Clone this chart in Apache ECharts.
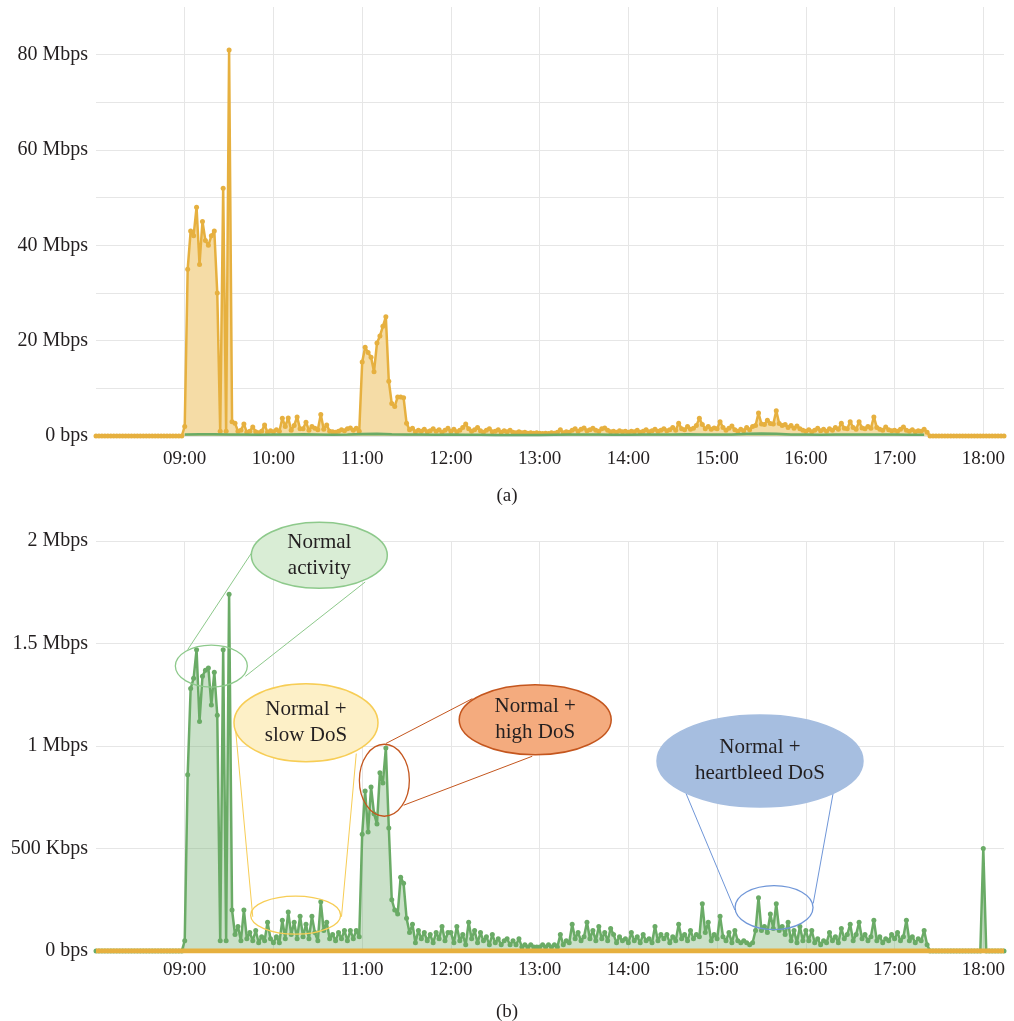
<!DOCTYPE html>
<html>
<head>
<meta charset="utf-8">
<script src="https://cdn.jsdelivr.net/npm/echarts@6/dist/echarts.min.js"></script>
<style>
  html, body { margin: 0; padding: 0; background: #ffffff; }
  #chart { width: 1014px; height: 1021px; }
</style>
</head>
<body>
<div id="chart"></div>
<script>
// ---- Tick labels ----------------------------------------------------------
const hourLabels = ['09:00', '10:00', '11:00', '12:00', '13:00', '14:00', '15:00', '16:00', '17:00', '18:00'];
const totalTickLabels = ['0 bps', '20 Mbps', '40 Mbps', '60 Mbps', '80 Mbps'];
const normalTickLabels = ['0 bps', '500 Kbps', '1 Mbps', '1.5 Mbps', '2 Mbps'];

// ---- (a) total throughput, Mbps, one sample every 2 min from 08:00 ---------
const totalMbps = [
  0, 0, 0, 0, 0, 0, 0, 0, 0, 0, 0, 0, 0, 0, 0, 0, 0, 0, 0, 0, 0, 0, 0, 0, 0, 0, 0, 0, 0, 0,               // 08
  2, 35, 43, 42, 48, 36, 45, 41, 40, 42, 43, 30, 1, 52, 1, 81, 3, 2.7, 1.0, 1.2,
  2.5, 0.8, 1.0, 1.9, 0.9, 0.7, 1.0, 2.3, 0.8, 1.1,                                                         // 09
  0.9, 1.3, 1.0, 3.7, 2.0, 3.8, 1.2, 2.2, 4.0, 1.5, 1.5, 2.9, 1.2, 2.0, 1.6, 1.3, 4.5, 1.4, 2.3, 1.0,
  0.9, 0.8, 1.0, 1.3, 1.1, 1.5, 1.7, 1.2, 1.6, 1.0,                                                         // 10
  15.5, 18.6, 17.5, 16.5, 13.5, 19.5, 21, 23, 25, 11.5, 6.8, 6.2, 8.2, 8.2, 8.0, 2.7, 1.3, 1.6, 0.9, 1.2,
  1.0, 1.4, 0.9, 1.1, 1.5, 1.0, 1.3, 0.8, 1.2, 1.6,                                                         // 11
  1.0, 1.4, 0.9, 1.2, 1.8, 2.5, 1.5, 1.0, 1.3, 1.8, 1.1, 0.8, 1.2, 1.5, 0.9, 1.0, 1.3, 0.8, 1.1, 0.9,
  1.2, 0.8, 0.7, 0.9, 0.7, 0.8, 0.6, 0.7, 0.6, 0.7,                                                         // 12
  0.6, 0.5, 0.6, 0.5, 0.7, 0.6, 0.8, 1.3, 0.7, 0.9, 0.8, 1.2, 1.5, 1.0, 1.4, 1.7, 1.1, 1.3, 1.6, 1.2,
  1.0, 1.5, 1.7, 1.2, 0.9, 1.0, 0.8, 1.1, 0.9, 1.0,                                                         // 13
  0.8, 1.0, 0.9, 1.2, 0.8, 1.0, 1.3, 0.9, 1.1, 1.4, 1.0, 1.2, 1.5, 1.1, 1.3, 1.8, 1.2, 2.7, 1.5, 1.3,
  2.0, 1.4, 1.6, 2.2, 3.7, 2.4, 1.5, 2.0, 1.4, 1.7,                                                         // 14
  1.5, 3.0, 1.8, 1.2, 1.6, 2.1, 1.3, 1.0, 1.4, 1.1, 1.8, 1.3, 2.0, 2.2, 4.8, 2.5, 2.4, 3.3, 2.6, 2.5,
  5.3, 2.6, 2.2, 2.4, 1.8, 2.2, 1.6, 2.1, 1.5, 1.2,                                                         // 15
  1.0, 1.3, 0.9, 1.2, 1.6, 1.1, 1.4, 1.0, 1.5, 1.2, 1.8, 1.4, 2.7, 1.6, 1.5, 3.0, 1.8, 1.4, 3.0, 1.7,
  1.5, 2.0, 1.6, 4.0, 1.8, 1.4, 1.2, 1.9, 1.3, 1.1,                                                         // 16
  1.2, 1.0, 1.4, 1.9, 1.2, 1.0, 1.3, 0.9, 1.1, 1.0, 1.4, 0.8, 0, 0, 0, 0, 0, 0, 0, 0,
  0, 0, 0, 0, 0, 0, 0, 0, 0, 0,                                                                             // 17
  0, 0, 0, 0, 0, 0, 0, 0                                                                                    // 18
];

// normal share of (a), Mbps, one sample every 10 min from 09:00
const totalNormalMbps = [
  0.3, 0.35, 0.35, 0.3, 0.3, 0.25,
  0.3, 0.3, 0.35, 0.3, 0.25, 0.3,
  0.4, 0.45, 0.35, 0.3, 0.3, 0.25,
  0.3, 0.25, 0.25, 0.2, 0.2, 0.2,
  0.2, 0.25, 0.3, 0.3, 0.3, 0.25,
  0.25, 0.3, 0.3, 0.3, 0.35, 0.3,
  0.3, 0.3, 0.45, 0.5, 0.45, 0.3,
  0.3, 0.25, 0.3, 0.3, 0.3, 0.3,
  0.3, 0.25, 0.25
];

// ---- (b) normal throughput, Mbps, one sample every 2 min from 08:00 --------
const normalMbps = [
  0, 0, 0, 0, 0, 0, 0, 0, 0, 0, 0, 0, 0, 0, 0, 0, 0, 0, 0, 0, 0, 0, 0, 0, 0, 0, 0, 0, 0, 0,               // 08
  0.05, 0.86, 1.28, 1.33, 1.47, 1.12, 1.34, 1.37, 1.38, 1.2, 1.36, 1.15, 0.05, 1.47, 0.05, 1.74, 0.2, 0.08, 0.12, 0.05,
  0.2, 0.06, 0.09, 0.05, 0.1, 0.04, 0.07, 0.05, 0.14, 0.06,                                                 // 09
  0.04, 0.07, 0.04, 0.15, 0.06, 0.19, 0.08, 0.14, 0.06, 0.17, 0.07, 0.13, 0.06, 0.17, 0.09, 0.05, 0.24, 0.1, 0.14, 0.06,
  0.08, 0.05, 0.09, 0.06, 0.1, 0.05, 0.1, 0.06, 0.1, 0.07,                                                  // 10
  0.57, 0.78, 0.58, 0.8, 0.67, 0.62, 0.87, 0.82, 0.99, 0.6, 0.25, 0.2, 0.18, 0.36, 0.33, 0.16, 0.09, 0.13, 0.04, 0.1,
  0.06, 0.09, 0.05, 0.08, 0.04, 0.09, 0.06, 0.12, 0.05, 0.09,                                               // 11
  0.09, 0.04, 0.12, 0.05, 0.08, 0.03, 0.14, 0.06, 0.1, 0.04, 0.09, 0.05, 0.07, 0.03, 0.08, 0.04, 0.06, 0.03, 0.05, 0.06,
  0.03, 0.05, 0.03, 0.06, 0.02, 0.03, 0.02, 0.03, 0.02, 0.02,                                               // 12
  0.02, 0.03, 0.02, 0.03, 0.02, 0.03, 0.02, 0.08, 0.03, 0.05, 0.04, 0.13, 0.06, 0.09, 0.05, 0.07, 0.14, 0.06, 0.1, 0.05,
  0.12, 0.06, 0.09, 0.05, 0.11, 0.08, 0.04, 0.07, 0.05, 0.06,                                               // 13
  0.04, 0.09, 0.05, 0.07, 0.04, 0.08, 0.05, 0.06, 0.04, 0.12, 0.05, 0.08, 0.06, 0.08, 0.04, 0.07, 0.05, 0.13, 0.06, 0.08,
  0.05, 0.1, 0.06, 0.08, 0.07, 0.23, 0.09, 0.14, 0.05, 0.08,                                                // 14
  0.06, 0.17, 0.07, 0.05, 0.09, 0.04, 0.1, 0.05, 0.04, 0.05, 0.04, 0.03, 0.04, 0.1, 0.26, 0.1, 0.12, 0.09, 0.18, 0.11,
  0.23, 0.1, 0.12, 0.08, 0.14, 0.05, 0.1, 0.04, 0.12, 0.05,                                                 // 15
  0.1, 0.05, 0.1, 0.04, 0.06, 0.03, 0.05, 0.04, 0.09, 0.05, 0.07, 0.04, 0.11, 0.06, 0.08, 0.13, 0.05, 0.08, 0.14, 0.06,
  0.08, 0.05, 0.07, 0.15, 0.05, 0.07, 0.04, 0.06, 0.05, 0.08,                                               // 16
  0.06, 0.09, 0.05, 0.07, 0.15, 0.05, 0.07, 0.04, 0.06, 0.05, 0.1, 0.03, 0, 0, 0, 0, 0, 0, 0, 0,
  0, 0, 0, 0, 0, 0, 0, 0, 0, 0,                                                                             // 17
  0.5, 0, 0, 0, 0, 0, 0, 0                                                                                  // 18
];

// attack share of (b), Mbps
const attackMbps = [['08:00', 0], ['13:00', 0], ['18:14', 0]];

// ---- Callouts on (b), positioned in (clock, Mbps) -------------------------
const callouts = [
  { label: 'Normal\nactivity', at: ['10:31', 1.93], rx: 68, ry: 33, fill: '#d9edd5', stroke: '#8dc98b',
    focus: ['09:18', 1.39], frx: 36, fry: 21, focusStroke: '#8dc98b',
    links: [[['09:02', 1.47], ['09:45', 1.94]], [['09:41', 1.34], ['11:02', 1.80]]] },
  { label: 'Normal +\nslow DoS', at: ['10:22', 1.113], rx: 72, ry: 39, fill: '#fdf0c7', stroke: '#f7cd55',
    focus: ['10:15', 0.175], frx: 45, fry: 19, focusStroke: '#f7cd55',
    links: [[['09:34', 1.111], ['09:46', 0.167]], [['10:56', 0.963], ['10:46', 0.167]]] },
  { label: 'Normal +\nhigh DoS', at: ['12:57', 1.128], rx: 76, ry: 35, fill: '#f4ab7e', stroke: '#c4561e',
    focus: ['11:15', 0.833], frx: 25, fry: 36, focusStroke: '#c4561e',
    links: [[['11:16', 1.012], ['12:14.5', 1.231]], [['11:28', 0.711], ['12:55', 0.95]]] },
  { label: 'Normal +\nheartbleed DoS', at: ['15:29', 0.927], rx: 103, ry: 46, fill: '#a6bee0', stroke: '#a6bee0',
    focus: ['15:38.5', 0.212], frx: 39, fry: 22, focusStroke: '#6f96d8',
    links: [[['14:39', 0.768], ['15:12', 0.2]], [['16:18.4', 0.768], ['16:05', 0.232]]] }
];

// ---- Helpers ---------------------------------------------------------------
const FONT = '"Liberation Serif", "Times New Roman", serif';
const TEXT = '#231f20';
const GRIDLINE = '#e6e6e6';
const YELLOW = '#e6b03f';
const YELLOW_FILL = '#f5dca6';
const GREEN = '#6aab66';
const GREEN_FILL = 'rgba(106,171,102,0.5)';

function toMin(hm) { const p = hm.split(':'); return Number(p[0]) * 60 + parseFloat(p[1]); }
function clock(min) {
  const h = Math.floor(min / 60), m = Math.round(min % 60);
  return String(h).padStart(2, '0') + ':' + String(m).padStart(2, '0');
}
function sampled(values, startHM, stepMin) {
  const t0 = toMin(startHM);
  return values.map((v, i) => [t0 + i * stepMin, v]);
}

function xAxis(gridIndex, margin) {
  return {
    type: 'value', gridIndex, min: toMin('08:00'), max: toMin('18:14'), interval: 60,
    axisLine: { show: false }, axisTick: { show: false },
    splitLine: { show: true, showMinLine: false, showMaxLine: false, lineStyle: { color: GRIDLINE, width: 1 } },
    axisLabel: {
      margin, fontFamily: FONT, fontSize: 19, color: TEXT, showMinLabel: false, showMaxLabel: false,
      formatter: v => (hourLabels.includes(clock(v)) ? clock(v) : '')
    }
  };
}

const chart = echarts.init(document.getElementById('chart'));

chart.setOption({
  animation: false,
  backgroundColor: '#ffffff',
  title: [
    { text: '(a)', left: 'center', top: 482, textStyle: { fontFamily: FONT, fontSize: 19, fontWeight: 'normal', color: TEXT } },
    { text: '(b)', left: 'center', top: 998, textStyle: { fontFamily: FONT, fontSize: 19, fontWeight: 'normal', color: TEXT } }
  ],
  grid: [
    { left: 96, right: 10, top: 7, height: 429 },
    { left: 96, right: 10, top: 541, height: 410 }
  ],
  xAxis: [xAxis(0, 14), xAxis(1, 10)],
  yAxis: [
    {
      type: 'value', gridIndex: 0, min: 0, max: 90, interval: 10,
      axisLine: { show: false }, axisTick: { show: false },
      splitLine: { show: true, showMaxLine: false, lineStyle: { color: GRIDLINE, width: 1 } },
      axisLabel: {
        margin: 8, fontFamily: FONT, fontSize: 20, color: TEXT,
        formatter: v => (v % 20 === 0 ? totalTickLabels[v / 20] : '')
      }
    },
    {
      type: 'value', gridIndex: 1, min: 0, max: 2, interval: 0.5,
      axisLine: { show: false }, axisTick: { show: false },
      splitLine: { show: true, lineStyle: { color: GRIDLINE, width: 1 } },
      axisLabel: {
        margin: 8, fontFamily: FONT, fontSize: 20, color: TEXT,
        formatter: v => normalTickLabels[Math.round(v / 0.5)]
      }
    }
  ],
  series: [
    {
      name: 'total', type: 'line', xAxisIndex: 0, yAxisIndex: 0, z: 2,
      data: sampled(totalMbps, '08:00', 2),
      symbol: 'circle', symbolSize: 5, showSymbol: true,
      lineStyle: { color: YELLOW, width: 2.5 }, itemStyle: { color: YELLOW },
      areaStyle: { color: YELLOW_FILL, opacity: 1 }
    },
    {
      name: 'total normal', type: 'line', xAxisIndex: 0, yAxisIndex: 0, z: 3,
      data: sampled(totalNormalMbps, '09:00', 10),
      showSymbol: false,
      lineStyle: { color: GREEN, width: 2.5 }, itemStyle: { color: GREEN },
      areaStyle: { color: GREEN_FILL }
    },
    {
      name: 'normal', type: 'line', xAxisIndex: 1, yAxisIndex: 1, z: 2,
      data: sampled(normalMbps, '08:00', 2),
      symbol: 'circle', symbolSize: 5, showSymbol: true,
      lineStyle: { color: GREEN, width: 2.5 }, itemStyle: { color: GREEN },
      areaStyle: { color: GREEN_FILL }
    },
    {
      name: 'attack', type: 'line', xAxisIndex: 1, yAxisIndex: 1, z: 4,
      data: attackMbps.map(d => [toMin(d[0]), d[1]]),
      showSymbol: false,
      lineStyle: { color: YELLOW, width: 5 }, itemStyle: { color: YELLOW }
    }
  ]
});

// Callout bubbles and their leader lines, placed through the (b) axes
const finder = { xAxisIndex: 1, yAxisIndex: 1 };
const px = p => chart.convertToPixel(finder, [toMin(p[0]), p[1]]);
const elements = [];
callouts.forEach(c => {
  c.links.forEach(l => {
    const a = px(l[0]), b = px(l[1]);
    elements.push({ type: 'line', z: 100, shape: { x1: a[0], y1: a[1], x2: b[0], y2: b[1] },
      style: { stroke: c.focusStroke, lineWidth: 1 } });
  });
  const f = px(c.focus);
  elements.push({ type: 'ellipse', z: 101, shape: { cx: f[0], cy: f[1], rx: c.frx, ry: c.fry },
    style: { fill: null, stroke: c.focusStroke, lineWidth: 1.3 } });
  const o = px(c.at);
  elements.push({ type: 'ellipse', z: 102, shape: { cx: o[0], cy: o[1], rx: c.rx, ry: c.ry },
    style: { fill: c.fill, stroke: c.stroke, lineWidth: 1.5 } });
  elements.push({ type: 'text', z: 103, x: o[0], y: o[1],
    style: { text: c.label, x: 0, y: 0, align: 'center', verticalAlign: 'middle',
      textAlign: 'center', textVerticalAlign: 'middle',
      font: '21px ' + FONT, lineHeight: 26, fill: TEXT } });
});
chart.setOption({ graphic: { elements } });
</script>
</body>
</html>
